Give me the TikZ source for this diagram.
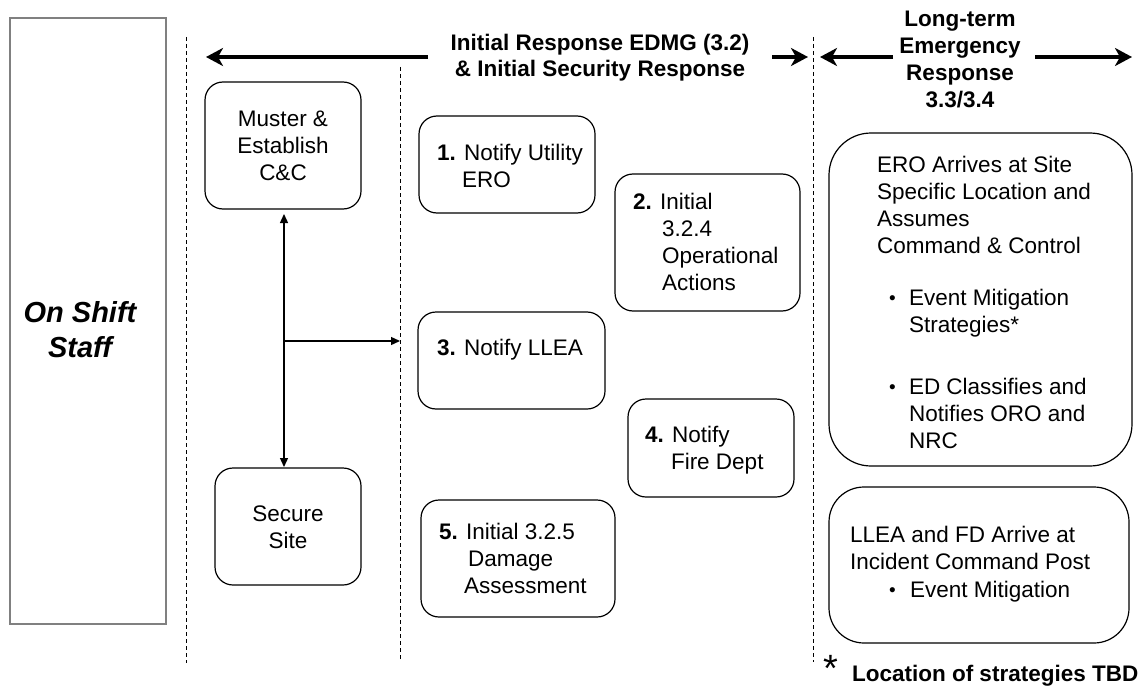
\documentclass[tikz,border=0pt]{standalone}
\usepackage{fontspec}
\setmainfont{Liberation Sans}
\usetikzlibrary{arrows.meta}
% left-aligned and centred stacks whose first baseline is the node's base
\newcommand{\txtlines}[1]{\begin{tabular}[t]{@{}l@{}}#1\end{tabular}}
\newcommand{\ctrlines}[1]{\begin{tabular}[t]{@{}c@{}}#1\end{tabular}}

\begin{document}
\begin{tikzpicture}[x=1pt,y=-1pt,
  every node/.style={font=\fontsize{22.5}{27}\selectfont, inner sep=0pt, outer sep=0pt},
  rbox/.style={draw, line width=1.2pt, rounded corners=18pt},
  txt/.style={anchor=base west},
  ctxt/.style={anchor=base},
  dot/.style={anchor=base west, font=\fontsize{19}{19}\selectfont},
  divider/.style={line width=0.9pt, dash pattern=on 4pt off 3pt},
  bigarrow/.style={line width=3.5pt, -{Stealth[length=17pt,width=18pt,inset=5pt]}},
  link/.style={line width=1.3pt, -{Triangle[length=9pt,width=8pt]}},
  dlink/.style={line width=1.3pt, {Triangle[length=9pt,width=8pt]}-{Triangle[length=9pt,width=8pt]}}
]
\useasboundingbox (0,0) rectangle (1145,690);

% ---- staff column ----
\node[draw=black!50, line width=1.4pt, minimum width=156pt, minimum height=606pt] (staff) at (88,321) {};
\node[ctxt, font=\fontsize{29}{35}\selectfont\bfseries\itshape] (stafftxt) at (80,322) {\ctrlines{On Shift\\Staff}};

% ---- phase dividers ----
\coordinate (d1t) at (186,37);  \coordinate (d1b) at (186,663);
\coordinate (d2t) at (400,67);  \coordinate (d2b) at (400,660);
\coordinate (d3t) at (813,37);  \coordinate (d3b) at (813,662);
\draw[divider] (d1t) -- (d1b);
\draw[divider] (d2t) -- (d2b);
\draw[divider] (d3t) -- (d3b);

% ---- phase headings ----
\node[ctxt, font=\fontsize{22.5}{26}\selectfont\bfseries] (initial) at (600,51)
  {\ctrlines{Initial Response EDMG (3.2)\\\& Initial Security Response}};
\coordinate (ia) at (428,57); \coordinate (iaend) at (206,57);
\coordinate (ib) at (772,57); \coordinate (ibend) at (808,57);
\draw[bigarrow] (ia) -- (iaend);
\draw[bigarrow] (ib) -- (ibend);

\node[ctxt, font=\fontsize{22.5}{26.7}\selectfont\bfseries] (longterm) at (960,27)
  {\ctrlines{Long-term\\Emergency\\Response\\3.3/3.4}};
\coordinate (la) at (893,57); \coordinate (laend) at (820,57);
\coordinate (lb) at (1035,57); \coordinate (lbend) at (1132,57);
\draw[bigarrow] (la) -- (laend);
\draw[bigarrow] (lb) -- (lbend);

% ---- security actions ----
\node[rbox, minimum width=156pt, minimum height=127pt] (muster) at (283,145.5) {};
\node[ctxt] (mustertxt) at (283,127) {\ctrlines{Muster \&\\Establish\\C\&C}};
\node[rbox, minimum width=146pt, minimum height=117pt] (secure) at (288,526.5) {};
\node[ctxt] (securetxt) at (288,521) {\ctrlines{Secure\\Site}};

\coordinate (vtop) at (284,214);
\coordinate (vbot) at (284,467);
\coordinate (branch) at (284,341);
\coordinate (branchend) at (400,341);
\draw[dlink] (vtop) -- (vbot);
\draw[link] (branch) -- (branchend);

% ---- numbered initial actions ----
\node[rbox, minimum width=176pt, minimum height=97pt] (n1) at (507,164.5) {};
\node[txt] (n1txt) at (437,160) {\txtlines{\textbf{1.} Notify Utility\\\hspace{25pt}ERO}};

\node[rbox, minimum width=185pt, minimum height=137pt] (n2) at (707.5,242.5) {};
\node[txt] (n2txt) at (633,209) {\txtlines{\textbf{2.} Initial\\\hspace{29pt}3.2.4\\\hspace{29pt}Operational\\\hspace{29pt}Actions}};

\node[rbox, minimum width=187pt, minimum height=97pt] (n3) at (511.5,360.5) {};
\node[txt] (n3txt) at (437,355) {\textbf{3.} Notify LLEA};

\node[rbox, minimum width=166pt, minimum height=98pt] (n4) at (711,448) {};
\node[txt] (n4txt) at (645,442) {\txtlines{\textbf{4.} Notify\\\hspace{26pt}Fire Dept}};

\node[rbox, minimum width=194pt, minimum height=117pt] (n5) at (518,558.5) {};
\node[txt] (n5txt) at (439,539) {\txtlines{\textbf{5.} Initial 3.2.5\\\hspace{29pt}Damage\\\hspace{25pt}Assessment}};

% ---- long-term response ----
\node[rbox, rounded corners=42pt, minimum width=303pt, minimum height=333pt] (ero) at (980.5,299.5) {};
\node[txt] (erotxt) at (877,172) {\txtlines{ERO Arrives at Site\\Specific Location and\\Assumes\\Command \& Control}};
\node[dot] (erob1) at (889,304) {•};
\node[txt] (erob1txt) at (909,305) {\txtlines{Event Mitigation\\Strategies*}};
\node[dot] (erob2) at (889,393) {•};
\node[txt] (erob2txt) at (909,394) {\txtlines{ED Classifies and\\Notifies ORO and\\NRC}};

\node[rbox, rounded corners=35pt, minimum width=300pt, minimum height=156pt] (llea) at (979,565) {};
\node[txt] (lleatxt) at (850,542) {\txtlines{LLEA and FD Arrive at\\Incident Command Post}};
\node[dot] (lleab) at (889,596) {•};
\node[txt] (lleabtxt) at (910,597) {Event Mitigation};

% ---- footnote ----
\node[txt, font=\fontsize{38}{40}\selectfont] (star) at (823,681) {*};
\node[txt, font=\fontsize{22.5}{27}\selectfont\bfseries] (note) at (852,681) {Location of strategies TBD};
\end{tikzpicture}
\end{document}
